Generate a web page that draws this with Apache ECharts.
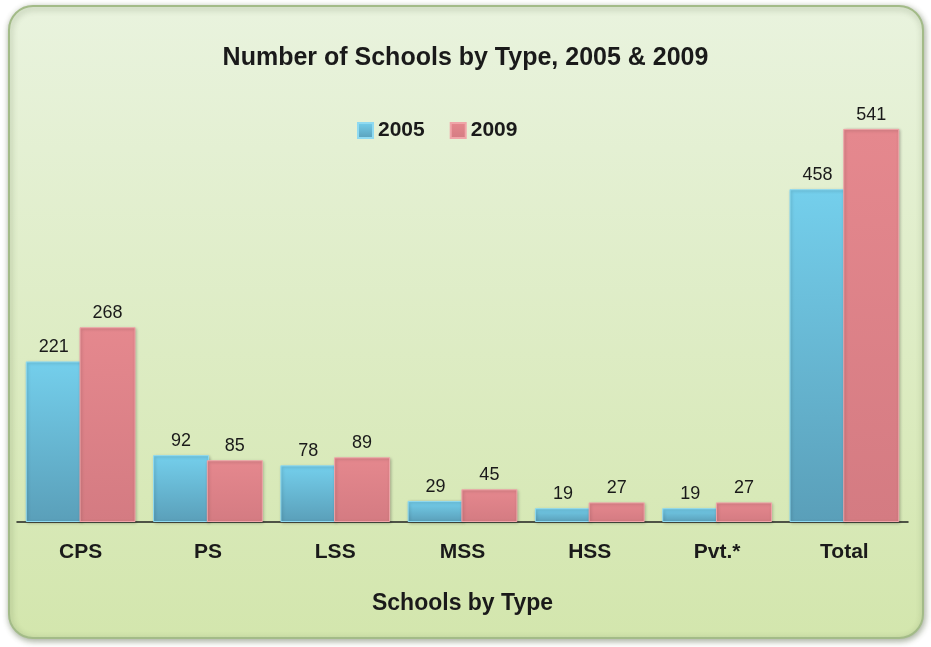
<!DOCTYPE html>
<html>
<head>
<meta charset="utf-8">
<script src="https://cdn.jsdelivr.net/npm/echarts@6/dist/echarts.min.js"></script>
<style>
  html, body { margin: 0; padding: 0; background: #fff; }
  #main { width: 931px; height: 647px; }
</style>
</head>
<body>
<div id="main"></div>
<script>
// 数据
const categories = ['CPS', 'PS', 'LSS', 'MSS', 'HSS', 'Pvt.*', 'Total'];
const values2005 = [221, 92, 78, 29, 19, 19, 458];
const values2009 = [268, 85, 89, 45, 27, 27, 541];

const myChart = echarts.init(document.getElementById('main'));

function barColor(top, bottom) {
  return new echarts.graphic.LinearGradient(0, 0, 0, 1, [
    { offset: 0, color: top },
    { offset: 1, color: bottom }
  ]);
}

const labelStyle = {
  show: true,
  position: 'top',
  distance: 5,
  fontFamily: 'Liberation Sans',
  fontSize: 18,
  color: '#1a1a1a'
};

myChart.setOption({
  backgroundColor: '#fff',
  graphic: [{
    type: 'rect',
    z: -10,
    shape: { x: 9, y: 6, width: 914, height: 632, r: 24 },
    style: {
      fill: new echarts.graphic.LinearGradient(0, 0, 0, 1, [
        { offset: 0, color: '#e9f3de' },
        { offset: 1, color: '#d3e6ad' }
      ]),
      stroke: '#a3bb88',
      lineWidth: 2,
      shadowColor: 'rgba(60,80,40,0.45)',
      shadowBlur: 6,
      shadowOffsetX: 1,
      shadowOffsetY: 2
    }
  }],
  title: {
    text: 'Number of Schools by Type, 2005 & 2009',
    left: 'center',
    top: 41,
    textStyle: { fontFamily: 'Liberation Sans', fontSize: 25, fontWeight: 'bold', color: '#1a1a1a' }
  },
  legend: {
    top: 115,
    left: 352,
    itemWidth: 15,
    itemHeight: 15,
    itemGap: 25,
    textStyle: { fontFamily: 'Liberation Sans', fontSize: 21, fontWeight: 'bold', color: '#1a1a1a' },
    data: [
      { name: '2005', icon: 'rect' },
      { name: '2009', icon: 'rect' }
    ]
  },
  grid: { left: 17, right: 23, top: 86, bottom: 125 },
  xAxis: {
    type: 'category',
    data: categories,
    name: 'Schools by Type',
    nameLocation: 'middle',
    nameGap: 70,
    nameTextStyle: { fontFamily: 'Liberation Sans', fontSize: 23, fontWeight: 'bold', color: '#1a1a1a' },
    axisTick: { show: false },
    axisLine: { lineStyle: { color: '#222', width: 1.5 } },
    axisLabel: {
      margin: 20,
      fontFamily: 'Liberation Sans',
      fontSize: 21,
      fontWeight: 'bold',
      color: '#1a1a1a'
    }
  },
  yAxis: {
    type: 'value',
    min: 0,
    max: 600,
    show: false,
    splitLine: { show: false }
  },
  series: [{
    name: '2005',
    type: 'bar',
    data: values2005,
    barWidth: 56,
    barGap: '-4%',
    label: labelStyle,
    itemStyle: {
      color: barColor('#74cfec', '#5a9fb9'),
      borderColor: '#8fdaf1',
      borderWidth: 1,
      shadowColor: 'rgba(0,0,0,0.25)',
      shadowBlur: 3,
      shadowOffsetX: 1,
      shadowOffsetY: 1
    }
  }, {
    name: '2009',
    type: 'bar',
    data: values2009,
    barWidth: 56,
    label: labelStyle,
    itemStyle: {
      color: barColor('#e5888e', '#d47b82'),
      borderColor: '#f0a5a9',
      borderWidth: 1,
      shadowColor: 'rgba(0,0,0,0.25)',
      shadowBlur: 3,
      shadowOffsetX: 1,
      shadowOffsetY: 1
    }
  }],
  color: ['#6cc8e8', '#e0848a']
});
</script>
</body>
</html>
